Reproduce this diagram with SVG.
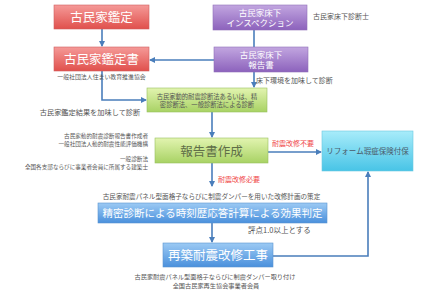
<svg xmlns="http://www.w3.org/2000/svg" width="432" height="293" viewBox="0 0 432 293">
<style>
text{font-family:"Noto Sans CJK JP","Noto Sans CJK SC",sans-serif;}
.w{fill:#fff;text-anchor:middle;}
.c{fill:#555;}
.r{fill:#f04848;font-size:7px;}
.ln{fill:none;stroke:#4a7ebb;stroke-width:1.6;}
</style>
<defs>
<linearGradient id="gr" x1="0" y1="0" x2="0" y2="1"><stop offset="0" stop-color="#f59a98"/><stop offset="1" stop-color="#e0504c"/></linearGradient>
<linearGradient id="gp" x1="0" y1="0" x2="0" y2="1"><stop offset="0" stop-color="#c2a6e0"/><stop offset="1" stop-color="#8c62bc"/></linearGradient>
<linearGradient id="gg" x1="0" y1="0" x2="0" y2="1"><stop offset="0" stop-color="#e2f4b0"/><stop offset="1" stop-color="#a8d264"/></linearGradient>
<linearGradient id="gc" x1="0" y1="0" x2="0" y2="1"><stop offset="0" stop-color="#a8ecfa"/><stop offset="1" stop-color="#48c4e6"/></linearGradient>
<linearGradient id="gb" x1="0" y1="0" x2="0" y2="1"><stop offset="0" stop-color="#9ccaf4"/><stop offset="1" stop-color="#4a90dc"/></linearGradient>
<marker id="ah" markerWidth="6" markerHeight="6" refX="5" refY="3" orient="auto" markerUnits="userSpaceOnUse"><path d="M0,0 L6,3 L0,6 z" fill="#4a7ebb"/></marker>
</defs>

<g id="connectors">
<path class="ln" d="M102,29 V46" marker-end="url(#ah)"/>
<path class="ln" d="M254,30 V47"/>
<path class="ln" d="M214,60 H150" marker-end="url(#ah)"/>
<path class="ln" d="M254,72 V87" marker-end="url(#ah)"/>
<path class="ln" d="M102,71 V100 H146" marker-end="url(#ah)"/>
<path class="ln" d="M212,112 V137" marker-end="url(#ah)"/>
<path class="ln" d="M268,152 H321" marker-end="url(#ah)"/>
<path class="ln" d="M212,163 V186" marker-end="url(#ah)"/>
<path class="ln" d="M212,223 V242" marker-end="url(#ah)"/>
<path class="ln" d="M273,256 H368 V172" marker-end="url(#ah)"/>
</g>

<g id="n1"><rect x="54" y="5" width="95" height="24" fill="url(#gr)" stroke="#d06060" stroke-width="0.6"/><text class="w" x="101.5" y="22" font-size="12.5">古民家鑑定</text></g>
<g id="n2"><rect x="54" y="47" width="95" height="24" fill="url(#gr)" stroke="#d06060" stroke-width="0.6"/><text class="w" x="101.5" y="64" font-size="12.5">古民家鑑定書</text><text class="c" x="101.5" y="78.5" text-anchor="middle" font-size="5.9">一般社団法人住まい教育推進協会</text></g>
<g id="n3"><rect x="213" y="5" width="94" height="25" fill="url(#gp)" stroke="#9070b8" stroke-width="0.6"/><text class="w" x="260" y="15.5" font-size="8.5">古民家床下</text><text class="w" x="260" y="26" font-size="8.5">インスペクション</text><text class="c" x="313" y="18.5" font-size="7">古民家床下診断士</text></g>
<g id="n4"><rect x="214" y="47" width="94" height="25" fill="url(#gp)" stroke="#9070b8" stroke-width="0.6"/><text class="w" x="261" y="57.5" font-size="8.5">古民家床下</text><text class="w" x="261" y="68" font-size="8.5">報告書</text><text class="c" x="256" y="82.5" font-size="7">床下環境を加味して診断</text></g>
<g id="n5"><rect x="147" y="88" width="120" height="24" fill="url(#gg)" stroke="#98c060" stroke-width="0.6"/><text x="207" y="98.5" font-size="6.3" fill="#555" text-anchor="middle">古民家動的耐震診断法あるいは、精</text><text x="207" y="107" font-size="6.3" fill="#555" text-anchor="middle">密診断法、一般診断法による診断</text><text x="90" y="114.5" font-size="7.2" fill="#555" text-anchor="middle">古民家鑑定結果を加味して診断</text></g>
<g id="n6"><rect x="155" y="138" width="113" height="25" fill="url(#gg)" stroke="#98c060" stroke-width="0.6"/><text x="211.5" y="155.5" font-size="12.5" fill="#5f6e48" text-anchor="middle">報告書作成</text>
<text class="c" x="148" y="138" text-anchor="end" font-size="5.6">古民家動的耐震診断報告書作成者</text>
<text class="c" x="148" y="146.2" text-anchor="end" font-size="5.6">一般社団法人動的耐震性能評価機構</text>
<text class="c" x="148" y="161" text-anchor="end" font-size="5.6">一般診断法</text>
<text class="c" x="148" y="169.2" text-anchor="end" font-size="5.6">全国各支部ならびに事業者会員に所属する建築士</text>
<text class="r" x="272" y="146">耐震改修不要</text>
<text class="r" x="218" y="182">耐震改修必要</text></g>
<g id="n7"><rect x="322" y="131" width="91" height="40" fill="url(#gc)" stroke="#6cc8e0" stroke-width="0.6"/><text x="367.5" y="154" font-size="7.5" fill="#4a5a6a" text-anchor="middle">リフォーム瑕疵保険付保</text></g>
<g id="n8"><text x="211.5" y="199" font-size="6.6" fill="#555" text-anchor="middle">古民家耐震パネル型面格子ならびに制震ダンパーを用いた改修計画の策定</text><rect x="98" y="203" width="229" height="20" fill="url(#gb)" stroke="#5a94d0" stroke-width="0.6"/><text class="w" x="212.5" y="217" font-size="10.5">精密診断による時刻歴応答計算による効果判定</text><text x="248" y="233" font-size="7.5" fill="#555">評点1.0以上とする</text></g>
<g id="n9"><rect x="163" y="243" width="110" height="24" fill="url(#gb)" stroke="#5a94d0" stroke-width="0.6"/><text class="w" x="218" y="259.5" font-size="12.5">再築耐震改修工事</text><text x="215" y="279" font-size="6.2" fill="#555" text-anchor="middle">古民家耐震パネル型面格子ならびに制震ダンパー取り付け</text><text x="216" y="288" font-size="6.2" fill="#555" text-anchor="middle">全国古民家再生協会事業者会員</text></g>
</svg>
